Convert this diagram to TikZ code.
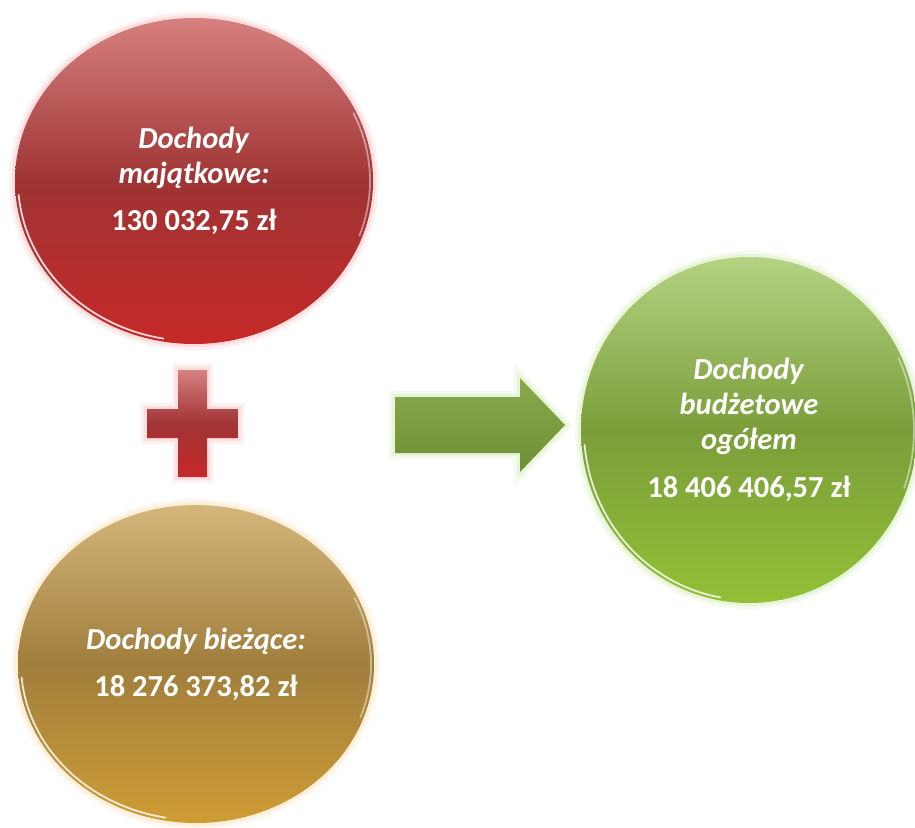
\documentclass[tikz,border=0pt]{standalone}
\usepackage{fontspec}
\setmainfont{Carlito}
\usetikzlibrary{shapes.geometric}

\definecolor{redtop}{RGB}{214,128,128}
\definecolor{redmid}{RGB}{160,52,52}
\definecolor{redbot}{RGB}{198,40,40}
\definecolor{redglow}{RGB}{250,205,205}
\definecolor{goldtop}{RGB}{212,182,124}
\definecolor{goldmid}{RGB}{160,126,60}
\definecolor{goldbot}{RGB}{206,156,52}
\definecolor{goldglow}{RGB}{248,230,195}
\definecolor{greentop}{RGB}{180,210,130}
\definecolor{greenmid}{RGB}{122,158,58}
\definecolor{greenbot}{RGB}{146,192,54}
\definecolor{greenglow}{RGB}{220,240,195}

\tikzset{
  bubble/.style={ellipse, inner sep=0pt, text=white, align=center,
    font=\bfseries\fontsize{30.5}{35}\selectfont},
  glowing/.style={preaction={draw=#1, line width=12pt, opacity=.3},
    preaction={draw=#1, line width=6pt, opacity=.5}},
  gleam/.style={draw=white, line width=1.8pt, opacity=.8, line cap=round}
}

\begin{document}
\begin{tikzpicture}[x=1pt,y=-1pt]
  \useasboundingbox (0,0) rectangle (915,827);

     % Kola
  \node[bubble, minimum width=358pt, minimum height=326pt, glowing=redglow,
    top color=redtop, bottom color=redbot, middle color=redmid] (maj) at (194,181)
    {\textit{Dochody}\\\textit{majątkowe:}\\[12pt]130 032,75 zł};
  \node[bubble, minimum width=356pt, minimum height=318pt, glowing=goldglow,
    top color=goldtop, bottom color=goldbot, middle color=goldmid] (biez) at (196,664)
    {\textit{Dochody bieżące:}\\[12pt]18 276 373,82 zł};
  \node[bubble, minimum width=336pt, minimum height=346pt, glowing=greenglow,
    top color=greentop, bottom color=greenbot, middle color=greenmid] (ogol) at (749,430)
    {\textit{Dochody}\\\textit{budżetowe}\\\textit{ogółem}\\[13pt]18 406 406,57 zł};

     % Odblaski
  \draw[gleam] (maj.center) ++(100:176 and 160) arc[start angle=100, end angle=175, x radius=176, y radius=160];
  \draw[gleam] (biez.center) ++(100:175 and 156) arc[start angle=100, end angle=175, x radius=175, y radius=156];
  \draw[gleam] (ogol.center) ++(100:165 and 170) arc[start angle=100, end angle=175, x radius=165, y radius=170];
  \draw[gleam, opacity=.45] (maj.center) ++(-25:176 and 160) arc[start angle=-25, end angle=20, x radius=176, y radius=160];
  \draw[gleam, opacity=.45] (biez.center) ++(-25:175 and 156) arc[start angle=-25, end angle=20, x radius=175, y radius=156];
  \draw[gleam, opacity=.45] (ogol.center) ++(-25:165 and 170) arc[start angle=-25, end angle=20, x radius=165, y radius=170];

     % Plus
  \coordinate (plus) at (193,423);
  \shade[glowing=redglow, top color=redtop, bottom color=redbot, middle color=redmid]
    (147,409) -- (178,409) -- (178,370) -- (207,370) -- (207,409) -- (238,409)
    -- (238,438) -- (207,438) -- (207,477) -- (178,477) -- (178,438) -- (147,438) -- cycle;

     % Strzalka
  \coordinate (tip) at (565,425);
  \shade[glowing=greenglow, top color=greenmid!75!greentop, bottom color=greenmid!90!black]
    (395,397) -- (520,397) -- (520,378) -- (tip) -- (520,472) -- (520,453) -- (395,453) -- cycle;

\end{tikzpicture}
\end{document}
